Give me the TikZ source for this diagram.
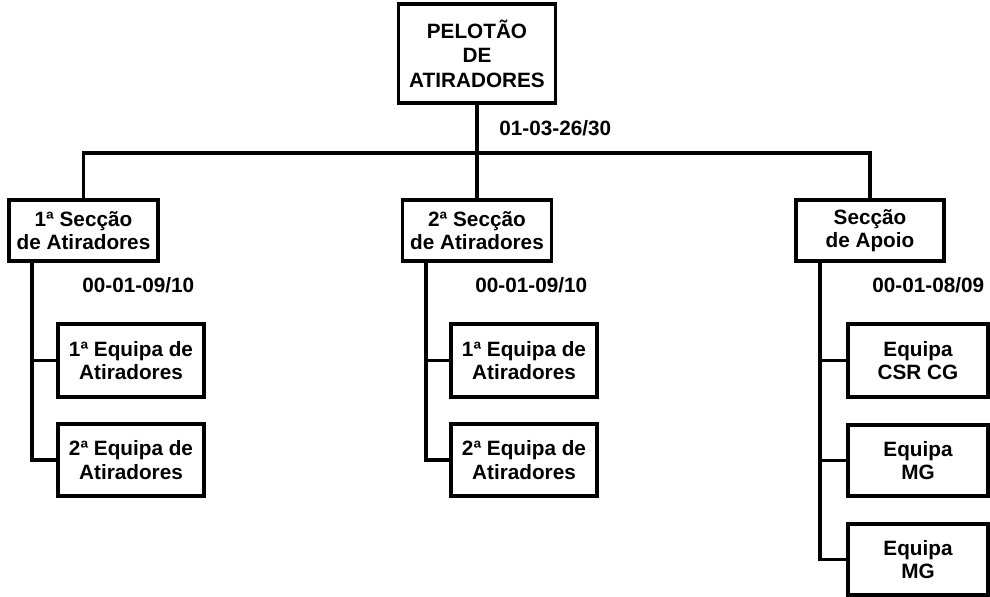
\documentclass[tikz,border=0pt]{standalone}
\usepackage{fontspec}
\setmainfont{Liberation Sans}
\begin{document}
\begin{tikzpicture}[x=0.02cm, y=-0.02cm,
    box/.style={draw, rectangle, line width=2pt, align=center, inner sep=0pt, font=\fontsize{11.8}{13.3}\selectfont\bfseries},
    lbl/.style={anchor=west, inner sep=0pt, font=\fontsize{11.8}{13.3}\selectfont\bfseries},
    link/.style={line width=2pt}]
    \useasboundingbox (0,0) rectangle (990,597);

    % Platoon
    \node[box, minimum width=157*0.02cm, minimum height=99*0.02cm, font=\fontsize{11.8}{13.9}\selectfont\bfseries] (plt) at (477,53.5) {PELOTÃO\\DE\\ATIRADORES};
    \node[lbl] (pltnum) at (499,128) {01-03-26/30};

    % Sections
    \node[box, minimum width=149*0.02cm, minimum height=61*0.02cm] (sec1) at (83.5,230.5) {1ª Secção\\de Atiradores};
    \node[box, minimum width=149*0.02cm, minimum height=61*0.02cm] (sec2) at (477,230.5) {2ª Secção\\de Atiradores};
    \node[box, minimum width=148*0.02cm, minimum height=61*0.02cm] (apoio) at (870,230.5) {Secção\\de Apoio};
    \node[lbl] (sec1num) at (82,285) {00-01-09/10};
    \node[lbl] (sec2num) at (475,285) {00-01-09/10};
    \node[lbl] (apoionum) at (872,285) {00-01-08/09};

    % Teams
    \node[box, minimum width=146*0.02cm, minimum height=73*0.02cm] (s1e1) at (131,360.5) {1ª Equipa de\\Atiradores};
    \node[box, minimum width=146*0.02cm, minimum height=72*0.02cm] (s1e2) at (131,460) {2ª Equipa de\\Atiradores};
    \node[box, minimum width=146*0.02cm, minimum height=73*0.02cm] (s2e1) at (524,360.5) {1ª Equipa de\\Atiradores};
    \node[box, minimum width=146*0.02cm, minimum height=72*0.02cm] (s2e2) at (524,460) {2ª Equipa de\\Atiradores};
    \node[box, minimum width=140*0.02cm, minimum height=73*0.02cm] (csr) at (918,360.5) {Equipa\\CSR CG};
    \node[box, minimum width=140*0.02cm, minimum height=71*0.02cm] (mg1) at (918,460.5) {Equipa\\MG};
    \node[box, minimum width=140*0.02cm, minimum height=71*0.02cm] (mg2) at (918,559.5) {Equipa\\MG};

    % Connections
    \coordinate (bar) at (477,153);
    \draw[link] (plt) -- (bar);
    \draw[link] (bar) -- (sec2);
    \draw[link] (sec1.north) |- (bar) -| (apoio.north);

    \draw[link] ([xshift=25*0.02cm]sec1.south west) |- (s1e2.west);
    \draw[link] (s1e1.west) -- ++(-24,0);
    \draw[link] ([xshift=25*0.02cm]sec2.south west) |- (s2e2.west);
    \draw[link] (s2e1.west) -- ++(-23,0);
    \draw[link] ([xshift=26*0.02cm]apoio.south west) |- (mg2.west);
    \draw[link] (csr.west) -- ++(-26,0);
    \draw[link] (mg1.west) -- ++(-26,0);

\end{tikzpicture}
\end{document}
